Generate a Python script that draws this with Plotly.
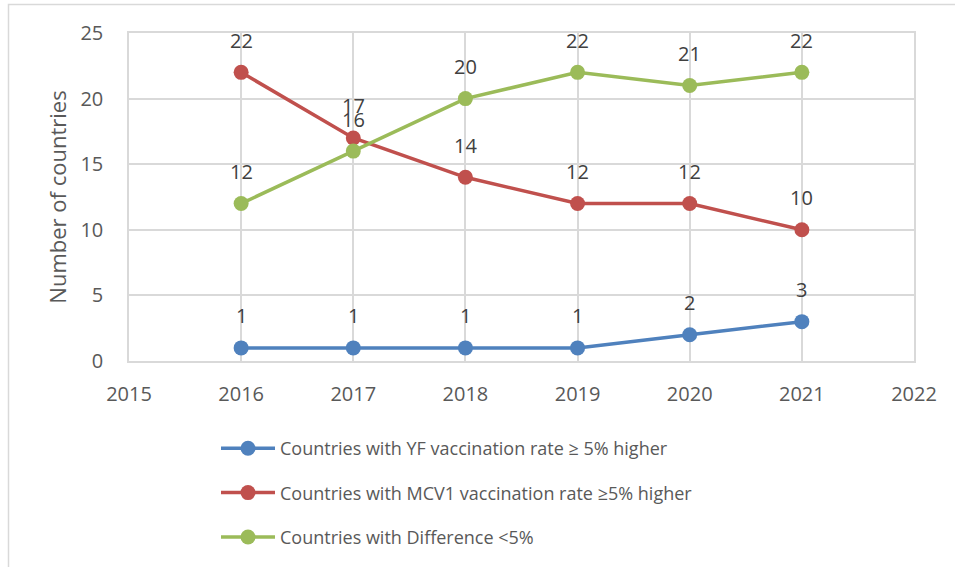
import plotly.graph_objects as go

years = [2016, 2017, 2018, 2019, 2020, 2021]
yf_higher = [1, 1, 1, 1, 2, 3]
mcv1_higher = [22, 17, 14, 12, 12, 10]
diff_below5 = [12, 16, 20, 22, 21, 22]

series_names = [
    "Countries with YF vaccination rate \u2265 5% higher",
    "Countries with MCV1 vaccination rate \u22655% higher",
    "Countries with Difference <5%",
]
series_values = [yf_higher, mcv1_higher, diff_below5]
series_colors = ["#4F81BD", "#C0504D", "#9BBB59"]

FONT = "Open Sans"
W, H = 955, 567
L, R, T, B = 129, 41, 33, 205

fig = go.Figure()
annotations = []
for i, (name, vals, col) in enumerate(zip(series_names, series_values, series_colors)):
    fig.add_trace(go.Scatter(
        x=years, y=vals, name=name, mode="lines+markers",
        line=dict(color=col, width=3.5),
        marker=dict(color=col, size=15),
        legendgroup=f"g{i}",
    ))
    for x, y in zip(years, vals):
        annotations.append(dict(
            x=x, y=y, text=str(y), showarrow=False, yshift=32,
            font=dict(family=FONT, size=20, color="#404040"),
        ))

plot_w = W - L - R
plot_h = H - T - B
# outer chart frame (only left and top edges fall inside the page)
x0 = (8.5 - L) / plot_w
y1 = (H - B - 4.5) / plot_h
fig.add_shape(type="rect", xref="paper", yref="paper",
              x0=x0, x1=1.5, y0=-1.0, y1=y1,
              line=dict(color="#D9D9D9", width=1.5), fillcolor="rgba(0,0,0,0)",
              layer="below")

fig.update_layout(
    width=W, height=H,
    margin=dict(l=L, r=R, t=T, b=B),
    paper_bgcolor="white", plot_bgcolor="white",
    font=dict(family=FONT, color="#595959"),
    annotations=annotations,
    showlegend=True,
    legend=dict(
        orientation="v", x=(216 - L) / plot_w, xanchor="left",
        y=(H - B - 430) / plot_h, yanchor="top",
        font=dict(family=FONT, size=18, color="#595959"),
        traceorder="grouped", tracegroupgap=18, itemwidth=54,
        bgcolor="rgba(0,0,0,0)",
    ),
    xaxis=dict(
        range=[2015, 2022], dtick=1, tick0=2015,
        showgrid=True, gridcolor="#D9D9D9", gridwidth=1.5,
        showline=True, linecolor="#D9D9D9", linewidth=1.5, mirror=True,
        ticks="", zeroline=False,
        tickfont=dict(family=FONT, size=20, color="#595959"),
        ticklabelstandoff=14,
    ),
    yaxis=dict(
        range=[0, 25], dtick=5,
        showgrid=True, gridcolor="#D9D9D9", gridwidth=1.5,
        showline=True, linecolor="#D9D9D9", linewidth=1.5, mirror=True,
        ticks="", zeroline=False,
        tickfont=dict(family=FONT, size=20, color="#595959"),
        ticklabelstandoff=20,
        title=dict(text="Number of countries",
                   font=dict(family=FONT, size=22, color="#595959"),
                   standoff=8),
    ),
)

fig.write_html("out.html")
